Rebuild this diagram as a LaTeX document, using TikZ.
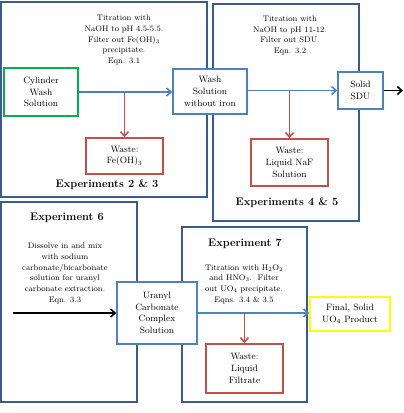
\documentclass[tikz,border=0pt]{standalone}
\usepackage{tikz}
\usetikzlibrary{arrows.meta,shadows}
\definecolor{framecol}{RGB}{56,93,138}
\definecolor{flowblue}{RGB}{79,129,189}
\definecolor{wastered}{RGB}{192,80,77}
\definecolor{startgreen}{RGB}{0,176,80}
\definecolor{endyellow}{RGB}{255,255,0}
\tikzset{
	expframe/.style={draw=framecol, line width=1.6pt},
	boxbase/.style={fill=white, align=center, inner sep=0pt, line width=1.5pt,
		font=\fontsize{9.2}{11.7}\selectfont,
		drop shadow={opacity=0.2, shadow xshift=1.2pt, shadow yshift=-1.2pt}},
	stepbox/.style={boxbase, draw=flowblue},
	wastebox/.style={boxbase, draw=wastered},
	notetext/.style={align=center, font=\fontsize{8.1}{10.7}\selectfont},
	exptitle/.style={font=\fontsize{11}{13}\selectfont\bfseries},
	flow/.style={draw=flowblue, line width=1.6pt, -{Straight Barb[length=4.5pt,width=8pt]}},
	wasteflow/.style={draw=wastered, line width=1.6pt, -{Straight Barb[length=4.5pt,width=8pt]}},
	blackflow/.style={draw=black, line width=1.6pt, -{Straight Barb[length=4.5pt,width=8pt]}},
}
\begin{document}
\begin{tikzpicture}[x=1pt, y=-1pt]
	\useasboundingbox (0,0) rectangle (404,413);
	% experiment frames
	\draw[expframe] (1,2) rectangle (207,197);
	\draw[expframe] (213,4) rectangle (359,221);
	\draw[expframe] (1,202) rectangle (137,402);
	\draw[expframe] (182,227) rectangle (307,402);
	\node[exptitle] (t23) at (107,185) {Experiments 2 \& 3};
	\node[exptitle] (t45) at (287,203) {Experiments 4 \& 5};
	\node[exptitle] (t6) at (67,218) {Experiment 6};
	\node[exptitle] (t7) at (245,244) {Experiment 7};
	% process notes
	\node[notetext] (n1) at (124,40) {Titration with\\NaOH to pH 4.5-5.5.\\Filter out Fe(OH)\textsubscript{3}\\precipitate.\\Eqn. 3.1};
	\node[notetext] (n2) at (290,35.5) {Titration with\\NaOH to pH 11-12.\\Filter out SDU.\\Eqn. 3.2};
	\node[notetext] (n3) at (65,273.5) {Dissolve in and mix\\with sodium\\carbonate/bicarbonate\\solution for uranyl\\carbonate extraction.\\Eqn. 3.3};
	\node[notetext] (n4) at (244,284) {Titration with H\textsubscript{2}O\textsubscript{2}\\and HNO\textsubscript{3}.\ \ Filter\\out UO\textsubscript{4} precipitate.\\Eqns. 3.4 \& 3.5};
	% boxes
	\node[boxbase, draw=startgreen, minimum width=74pt, minimum height=48pt] (cyl) at (41,92) {Cylinder\\Wash\\Solution};
	\node[stepbox, minimum width=74pt, minimum height=45pt] (wash) at (210,91.5) {Wash\\Solution\\without iron};
	\node[stepbox, minimum width=45pt, minimum height=37pt] (sdu) at (360.5,90.5) {Solid\\SDU};
	\node[wastebox, minimum width=77pt, minimum height=36pt] (wfe) at (124.5,156) {Waste:\\Fe(OH)\textsubscript{3}};
	\node[wastebox, minimum width=77pt, minimum height=47pt] (wnaf) at (289.5,162.5) {Waste:\\Liquid NaF\\Solution};
	\node[stepbox, minimum width=80pt, minimum height=62pt] (ura) at (157,313) {Uranyl\\Carbonate\\Complex\\Solution};
	\node[boxbase, draw=endyellow, minimum width=80pt, minimum height=34pt] (prod) at (350,314) {Final, Solid\\UO\textsubscript{4} Product};
	\node[wastebox, minimum width=77pt, minimum height=49pt] (wfil) at (244.5,368.5) {Waste:\\Liquid\\Filtrate};
	\coordinate (out) at (403,90.5);
	\coordinate (in) at (13,313);
	% connectors
	\draw[flow] (cyl.east) -- (wash.west |- cyl.east);
	\draw[flow] (wash.east |- sdu.west) -- (sdu.west);
	\draw[flow] (ura.east) -- (prod.west |- ura.east);
	\draw[wasteflow] (wfe.north |- cyl.east) -- (wfe.north);
	\draw[wasteflow] (wnaf.north |- sdu.west) -- (wnaf.north);
	\draw[wasteflow] (wfil.north |- ura.east) -- (wfil.north);
	\draw[blackflow] (sdu.east) -- (out);
	\draw[blackflow] (in) -- (ura.west);
\end{tikzpicture}
\end{document}
